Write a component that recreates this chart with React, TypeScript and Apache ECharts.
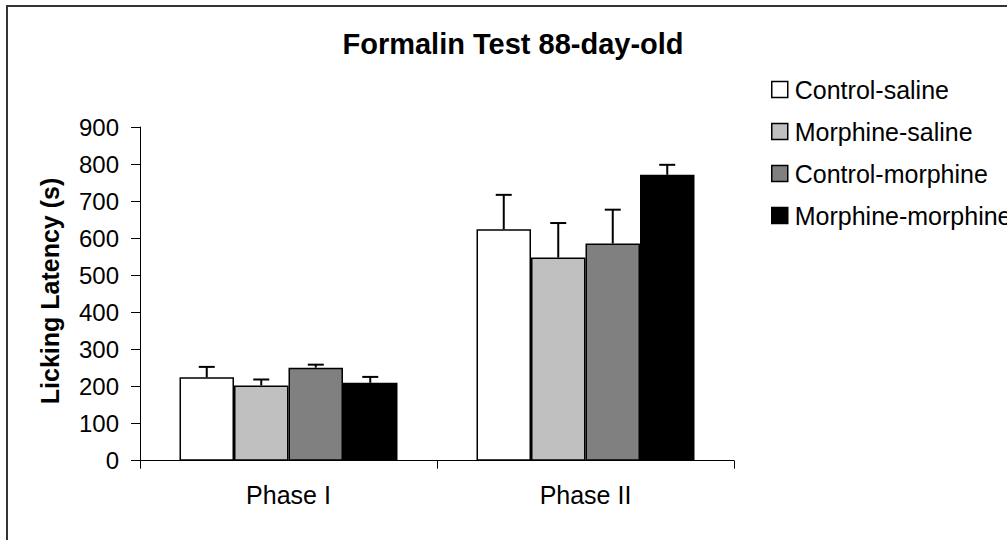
import React, { useEffect, useRef } from "react";
import * as echarts from "echarts";

const categories = ["Phase I", "Phase II"];
const seriesNames = ["Control-saline", "Morphine-saline", "Control-morphine", "Morphine-morphine"];
const seriesColors = ["#FFFFFF", "#C0C0C0", "#808080", "#000000"];
const controlSaline = [225, 624];
const morphineSaline = [203, 548];
const controlMorphine = [251, 586];
const morphineMorphine = [210, 771];
const errControlSaline = [28, 93];
const errMorphineSaline = [16, 93];
const errControlMorphine = [8, 91];
const errMorphineMorphine = [16, 27];
const yTicks = [0, 100, 200, 300, 400, 500, 600, 700, 800, 900];

const FONT = "'Liberation Sans', Arial, sans-serif";
const CAT_GAP = 0.266;

export default function App() {
  const ref = useRef<HTMLDivElement>(null);
  useEffect(() => {
    if (!ref.current) return;
    const chart = echarts.init(ref.current, null, { renderer: "svg" });
    const values = [controlSaline, morphineSaline, controlMorphine, morphineMorphine];
    const errs = [errControlSaline, errMorphineSaline, errControlMorphine, errMorphineMorphine];
    const n = seriesNames.length;

    const barSeries = seriesNames.map((name, i) => ({
      name,
      type: "bar",
      data: values[i],
      barGap: "0%",
      barCategoryGap: (CAT_GAP * 100).toFixed(1) + "%",
      itemStyle: { color: seriesColors[i], borderColor: "#000", borderWidth: 1.5 },
      z: 2,
    }));

    const errSeries = seriesNames.map((name, i) => ({
      name: name + " error",
      type: "custom",
      z: 3,
      data: values[i].map((v, k) => [k, v, v + errs[i][k]]),
      renderItem: (params: any, api: any) => {
        const k = api.value(0);
        const lo = api.coord([k, api.value(1)]);
        const hi = api.coord([k, api.value(2)]);
        const catW = api.size([1, 0])[0];
        const total = catW * (1 - CAT_GAP);
        const bw = total / n;
        const x = lo[0] - total / 2 + (i + 0.5) * bw;
        const cap = 8;
        const style = { stroke: "#000", lineWidth: 2 };
        return {
          type: "group",
          children: [
            { type: "line", shape: { x1: x, y1: lo[1], x2: x, y2: hi[1] }, style },
            { type: "line", shape: { x1: x - cap, y1: hi[1], x2: x + cap, y2: hi[1] }, style },
          ],
        };
      },
    }));

    chart.setOption({
      animation: false,
      backgroundColor: "#fff",
      grid: { left: 140, right: 273, top: 127, bottom: 79.3 },
      legend: {
        orient: "vertical",
        left: 766,
        top: 72,
        data: seriesNames,
        itemWidth: 16,
        itemHeight: 16,
        itemGap: 17,
        icon: "rect",
        itemStyle: { borderColor: "#000", borderWidth: 1.5 },
        textStyle: { fontFamily: FONT, fontSize: 25, color: "#000", lineHeight: 25, padding: [0, 0, 0, 2] },
      },
      xAxis: {
        type: "category",
        data: categories,
        axisLine: { lineStyle: { color: "#000", width: 1 } },
        axisTick: { show: true, length: 8, lineStyle: { color: "#000" } },
        axisLabel: { fontFamily: FONT, fontSize: 25, color: "#000", margin: 22 },
      },
      yAxis: {
        type: "value",
        min: 0,
        max: 900,
        interval: 100,
        splitLine: { show: false },
        axisLine: { show: true, lineStyle: { color: "#000", width: 1 } },
        axisTick: { show: true, length: 9, lineStyle: { color: "#000" } },
        axisLabel: {
          fontFamily: FONT,
          fontSize: 24,
          color: "#000",
          margin: 21,
          formatter: (v: number) => (yTicks.includes(v) ? String(v) : ""),
        },
      },
      graphic: [
        {
          type: "rect",
          shape: { x: 7, y: 6, width: 1200, height: 700 },
          style: { fill: "none", stroke: "#333", lineWidth: 2 },
          silent: true,
          z: -1,
        },
        {
          type: "text",
          x: 513,
          y: 44,
          style: {
            text: "Formalin Test 88-day-old",
            fontFamily: FONT,
            fontSize: 29,
            fontWeight: "bold",
            fill: "#000",
            align: "center",
            verticalAlign: "middle",
          },
        },
        {
          type: "text",
          x: 50,
          y: 291,
          rotation: Math.PI / 2,
          style: {
            text: "Licking Latency (s)",
            fontFamily: FONT,
            fontSize: 25,
            fontWeight: "bold",
            fill: "#000",
            align: "center",
            verticalAlign: "middle",
          },
        },
      ],
      series: [...barSeries, ...errSeries],
    });
    return () => chart.dispose();
  }, []);
  return (
    <div
      ref={ref}
      style={{ position: "absolute", left: 0, top: 0, width: 1007, height: 540 }}
    />
  );
}
